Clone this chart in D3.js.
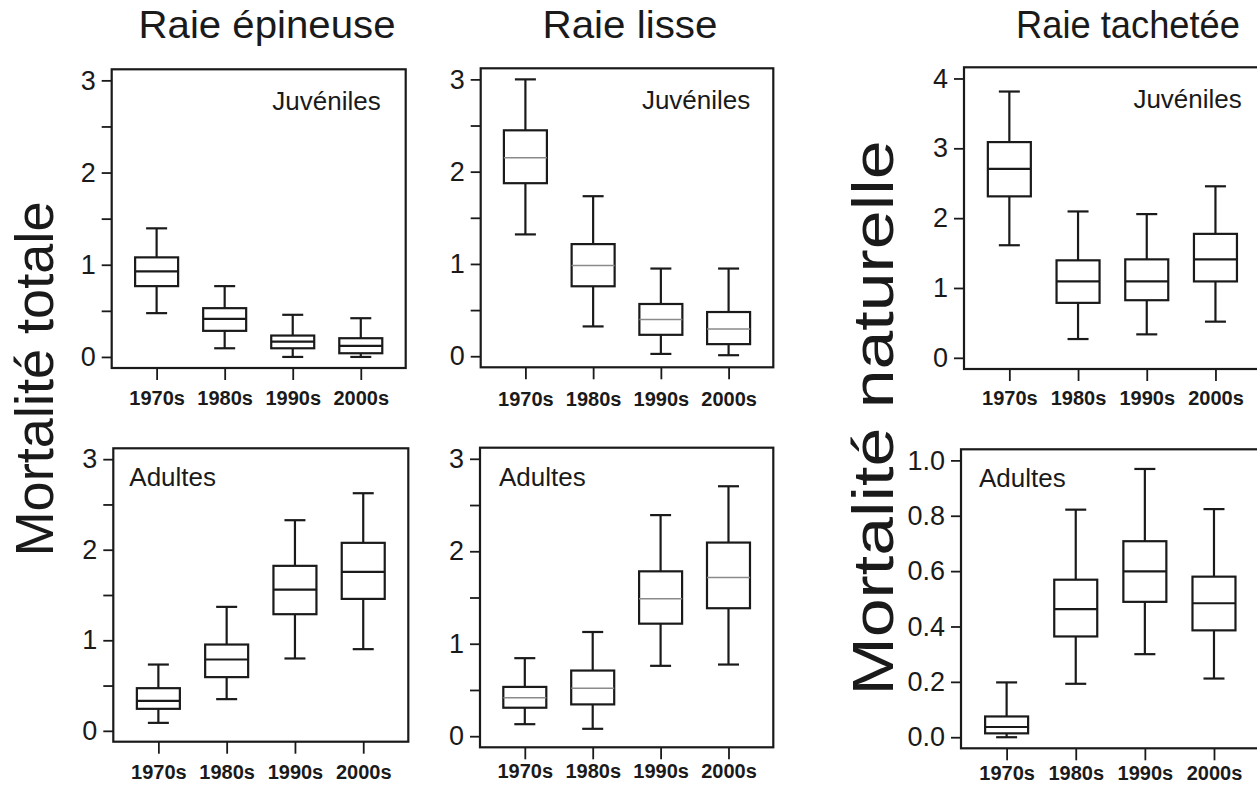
<!DOCTYPE html>
<html>
<head>
<meta charset="utf-8">
<script src="https://cdn.jsdelivr.net/npm/d3@7"></script>
<style>
  html, body { margin: 0; padding: 0; background: #fff; }
  svg { display: block; }
  text { font-family: "Liberation Sans", Arial, sans-serif; fill: #1a1a1a; }
</style>
</head>
<body>
<svg id="chart" width="1257" height="786"></svg>
<script>
// ---------- DATA ----------
const decades = ["1970s", "1980s", "1990s", "2000s"];
const speciesTitles = ["Raie épineuse", "Raie lisse", "Raie tachetée"];
const rowTitles = ["Mortalité totale", "Mortalité naturelle"];
const stageLabels = ["Juvéniles", "Adultes"];

// each row: [lower whisker, Q1, median, Q3, upper whisker]
const epineuseJuv = [[0.475, 0.768, 0.928, 1.08, 1.395], [0.094, 0.283, 0.413, 0.529, 0.768], [0.0, 0.094, 0.167, 0.232, 0.457], [0.0, 0.04, 0.12, 0.203, 0.42]];
const lisseJuv = [[1.32, 1.875, 2.151, 2.448, 3.0], [0.323, 0.758, 0.983, 1.215, 1.734], [0.025, 0.232, 0.399, 0.566, 0.95], [0.011, 0.131, 0.294, 0.479, 0.95]];
const tacheteeJuv = [[1.612, 2.312, 2.705, 3.089, 3.813], [0.269, 0.787, 1.094, 1.396, 2.096], [0.336, 0.825, 1.094, 1.41, 2.058], [0.518, 1.094, 1.41, 1.775, 2.456]];
const epineuseAdu = [[0.088, 0.243, 0.331, 0.471, 0.732], [0.35, 0.593, 0.788, 0.953, 1.369], [0.799, 1.288, 1.559, 1.822, 2.326], [0.902, 1.457, 1.756, 2.076, 2.624]];
const lisseAdu = [[0.13, 0.308, 0.417, 0.533, 0.844], [0.08, 0.344, 0.518, 0.71, 1.127], [0.761, 1.217, 1.486, 1.783, 2.391], [0.775, 1.384, 1.717, 2.094, 2.703]];
const tacheteeAdu = [[0.0, 0.014, 0.037, 0.075, 0.198], [0.193, 0.364, 0.463, 0.569, 0.822], [0.3, 0.489, 0.599, 0.708, 0.969], [0.212, 0.386, 0.484, 0.58, 0.824]];

const ticks3 = [0, 1, 2, 3];
const minor3 = [0.5, 1.5, 2.5];
const ticks4 = [0, 1, 2, 3, 4];
const ticks1 = [0, 0.2, 0.4, 0.6, 0.8, 1.0];

// ---------- LAYOUT ----------
const panels = [
  { data: epineuseJuv, ymax: 3, ticks: ticks3, minor: minor3, fmt: d3.format("d"), left: 111.7, right: 405.7, top: 69.3, bottom: 368, labY: 37, stage: 0, gray: false, labelInset: 25 },
  { data: lisseJuv, ymax: 3, ticks: ticks3, minor: minor3, fmt: d3.format("d"), left: 480.7, right: 773.3, top: 68.3, bottom: 367.3, labY: 38.5, stage: 0, gray: true, labelInset: 23 },
  { data: tacheteeJuv, ymax: 4, ticks: ticks4, minor: [], fmt: d3.format("d"), left: 964, right: 1260.8, top: 67.3, bottom: 369, labY: 36, stage: 0, gray: false, labelInset: 19 },
  { data: epineuseAdu, ymax: 3, ticks: ticks3, minor: minor3, fmt: d3.format("d"), left: 113.3, right: 408.3, top: 448.3, bottom: 741.7, labY: 37, stage: 1, gray: false, labelInset: 16 },
  { data: lisseAdu, ymax: 3, ticks: ticks3, minor: minor3, fmt: d3.format("d"), left: 480, right: 773.3, top: 447.7, bottom: 747.3, labY: 31, stage: 1, gray: true, labelInset: 19 },
  { data: tacheteeAdu, ymax: 1, ticks: ticks1, minor: [], fmt: d3.format(".1f"), left: 961, right: 1259.6, top: 449.3, bottom: 748.3, labY: 32, stage: 1, gray: false, labelInset: 18 }
];

const ink = "#1a1a1a";
const svg = d3.select("#chart");

panels.forEach(p => {
  const ext = p.ymax * 0.04;
  const y = d3.scaleLinear().domain([-ext, p.ymax + ext]).range([p.bottom, p.top]);
  const x = d3.scaleLinear().domain([0.34, 4.66]).range([p.left, p.right]);
  const g = svg.append("g");

  // y axis (major)
  const yAxis = g.append("g").attr("transform", `translate(${p.left},0)`)
    .call(d3.axisLeft(y).tickValues(p.ticks).tickSize(10).tickPadding(6).tickFormat(p.fmt));
  yAxis.select(".domain").remove();
  yAxis.selectAll("line").attr("stroke", ink).attr("stroke-width", 1.8);
  yAxis.selectAll("text").attr("font-size", 27).attr("fill", ink);

  // y axis (minor)
  if (p.minor.length) {
    const m = g.append("g").attr("transform", `translate(${p.left},0)`)
      .call(d3.axisLeft(y).tickValues(p.minor).tickSize(10).tickFormat(""));
    m.select(".domain").remove();
    m.selectAll("line").attr("stroke", ink).attr("stroke-width", 1.8);
  }

  // x axis
  const xAxis = g.append("g").attr("transform", `translate(0,${p.bottom})`)
    .call(d3.axisBottom(x).tickValues([1, 2, 3, 4]).tickSize(12).tickFormat(i => decades[i - 1]));
  xAxis.select(".domain").remove();
  xAxis.selectAll("line").attr("stroke", ink).attr("stroke-width", 1.8);
  xAxis.selectAll("text").attr("y", p.labY).attr("dy", 0)
    .attr("font-size", 20).attr("font-weight", "bold").attr("fill", ink);

  // boxes
  const boxW = 43, capW = 21;
  p.data.forEach((s, i) => {
    const cx = x(i + 1);
    const [lo, q1, med, q3, hi] = s;
    const bg = g.append("g").attr("stroke", ink).attr("stroke-width", 2.2).attr("fill", "none");
    bg.append("line").attr("x1", cx).attr("x2", cx).attr("y1", y(hi)).attr("y2", y(q3));
    bg.append("line").attr("x1", cx).attr("x2", cx).attr("y1", y(q1)).attr("y2", y(lo));
    bg.append("line").attr("x1", cx - capW / 2).attr("x2", cx + capW / 2).attr("y1", y(hi)).attr("y2", y(hi));
    bg.append("line").attr("x1", cx - capW / 2).attr("x2", cx + capW / 2).attr("y1", y(lo)).attr("y2", y(lo));
    bg.append("rect").attr("x", cx - boxW / 2).attr("width", boxW)
      .attr("y", y(q3)).attr("height", y(q1) - y(q3)).attr("fill", "#fff");
    bg.append("line").attr("x1", cx - boxW / 2).attr("x2", cx + boxW / 2).attr("y1", y(med)).attr("y2", y(med))
      .attr("stroke", p.gray ? "#8a8a8a" : ink).attr("stroke-width", p.gray ? 1.5 : 2.2);
  });

  // frame
  g.append("rect").attr("x", p.left).attr("y", p.top)
    .attr("width", p.right - p.left).attr("height", p.bottom - p.top)
    .attr("fill", "none").attr("stroke", ink).attr("stroke-width", 2.2);

  // stage label
  const lab = g.append("text").attr("font-size", 26).text(stageLabels[p.stage]);
  if (p.stage === 0) {
    lab.attr("x", p.right - p.labelInset).attr("y", p.top + 41).attr("text-anchor", "end");
  } else {
    lab.attr("x", p.left + p.labelInset).attr("y", p.top + 38).attr("text-anchor", "start");
  }
});

// column titles
const titleX = [267, 630, 1128];
const titleLen = [257, 175, 224];
speciesTitles.forEach((t, i) => {
  svg.append("text").attr("x", titleX[i]).attr("y", 38).attr("text-anchor", "middle")
    .attr("font-size", 39).attr("textLength", titleLen[i]).attr("lengthAdjust", "spacingAndGlyphs").text(t);
});

// row (y-axis) titles
svg.append("text").attr("transform", "translate(53,379) rotate(-90)")
  .attr("text-anchor", "middle").attr("font-size", 54)
  .attr("textLength", 355).attr("lengthAdjust", "spacingAndGlyphs").text(rowTitles[0]);
svg.append("text").attr("transform", "translate(893,418) rotate(-90)")
  .attr("text-anchor", "middle").attr("font-size", 58)
  .attr("textLength", 555).attr("lengthAdjust", "spacingAndGlyphs").text(rowTitles[1]);
</script>
</body>
</html>
